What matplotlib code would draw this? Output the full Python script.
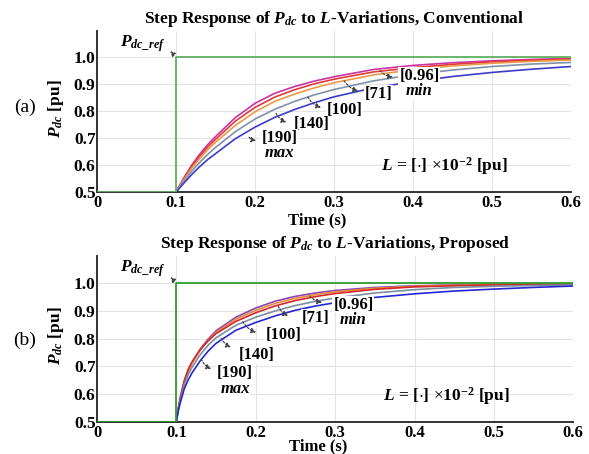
import matplotlib
matplotlib.use("Agg")
import matplotlib.pyplot as plt

plt.rcParams["font.family"] = ["Liberation Serif", "DejaVu Serif"]
plt.rcParams["mathtext.fontset"] = "custom"
plt.rcParams["mathtext.rm"] = "Liberation Serif"
plt.rcParams["mathtext.it"] = "Liberation Serif:italic"
plt.rcParams["mathtext.bf"] = "Liberation Serif:bold"
plt.rcParams["mathtext.bfit"] = "Liberation Serif:italic:bold"

# Données
t_conv = [0.0, 0.1, 0.11, 0.12, 0.13, 0.14, 0.15, 0.175, 0.2, 0.225, 0.25, 0.275,
          0.3, 0.35, 0.4, 0.45, 0.5, 0.55, 0.6]
conv_096 = [0.5, 0.5, 0.553, 0.60, 0.64, 0.675, 0.705, 0.775, 0.828, 0.865, 0.89, 0.91,
            0.926, 0.953, 0.968, 0.978, 0.985, 0.99, 0.994]
conv_71 = [0.5, 0.5, 0.55, 0.595, 0.633, 0.666, 0.695, 0.762, 0.813, 0.851, 0.878, 0.9,
           0.917, 0.944, 0.96, 0.972, 0.981, 0.987, 0.991]
conv_100 = [0.5, 0.5, 0.546, 0.588, 0.624, 0.656, 0.684, 0.746, 0.797, 0.835, 0.862, 0.885,
            0.904, 0.933, 0.952, 0.966, 0.976, 0.983, 0.988]
conv_140 = [0.5, 0.5, 0.54, 0.577, 0.61, 0.639, 0.665, 0.723, 0.77, 0.806, 0.835, 0.859,
            0.879, 0.911, 0.934, 0.951, 0.964, 0.973, 0.979]
conv_190 = [0.5, 0.5, 0.533, 0.565, 0.594, 0.62, 0.642, 0.697, 0.74, 0.776, 0.805, 0.83,
            0.852, 0.885, 0.908, 0.927, 0.942, 0.954, 0.964]

t_prop = [0.0, 0.1, 0.102, 0.105, 0.11, 0.115, 0.12, 0.13, 0.14, 0.15, 0.175, 0.2, 0.225,
          0.25, 0.275, 0.3, 0.35, 0.4, 0.45, 0.5, 0.55, 0.6]
prop_096 = [0.5, 0.5, 0.54, 0.585, 0.645, 0.685, 0.715, 0.762, 0.798, 0.828, 0.877, 0.91,
            0.935, 0.952, 0.964, 0.973, 0.984, 0.99, 0.993, 0.995, 0.996, 0.997]
prop_71 = [0.5, 0.5, 0.54, 0.585, 0.643, 0.683, 0.712, 0.758, 0.793, 0.822, 0.87, 0.902,
           0.927, 0.945, 0.958, 0.968, 0.981, 0.988, 0.992, 0.994, 0.995, 0.996]
prop_100 = [0.5, 0.5, 0.545, 0.592, 0.65, 0.69, 0.718, 0.76, 0.792, 0.818, 0.862, 0.893,
            0.918, 0.937, 0.951, 0.962, 0.977, 0.986, 0.99, 0.993, 0.995, 0.996]
prop_140 = [0.5, 0.5, 0.54, 0.58, 0.635, 0.672, 0.698, 0.742, 0.776, 0.803, 0.848, 0.877,
            0.9, 0.919, 0.934, 0.946, 0.964, 0.976, 0.984, 0.988, 0.991, 0.993]
prop_190 = [0.5, 0.5, 0.535, 0.57, 0.62, 0.652, 0.678, 0.72, 0.755, 0.783, 0.83, 0.858,
            0.882, 0.902, 0.917, 0.929, 0.948, 0.961, 0.971, 0.978, 0.984, 0.989]

t_ref = [0.0, 0.1, 0.1, 0.6]
p_ref = [0.5, 0.5, 1.0, 1.0]

x_ticks = [0, 0.1, 0.2, 0.3, 0.4, 0.5, 0.6]
x_tick_labels = ["0", "0.1", "0.2", "0.3", "0.4", "0.5", "0.6"]
y_ticks = [0.5, 0.6, 0.7, 0.8, 0.9, 1.0]

labels = ["[0.96]", "[71]", "[100]", "[140]", "[190]"]

couleurs_conv = ["#cc33a0", "#e03a3a", "#eb9a48", "#7f93a8", "#3c3ccc"]
couleurs_prop = ["#8a45b0", "#ea8a40", "#d42828", "#7a8ea0", "#2626d6"]

# positions des étiquettes (texte, pointe de flèche, départ sur la courbe)
pos_conv = [
    ((0.408, 0.928), (0.378, 0.925), (0.356, 0.956)),
    ((0.356, 0.864), (0.334, 0.872), (0.311, 0.92)),
    ((0.313, 0.804), (0.287, 0.81), (0.265, 0.86)),
    ((0.272, 0.75), (0.243, 0.755), (0.225, 0.8)),
    ((0.231, 0.699), (0.205, 0.69), (0.19, 0.71)),
]
pos_prop = [
    ((0.323, 0.922), (0.287, 0.93), (0.266, 0.96)),
    ((0.275, 0.874), (0.244, 0.879), (0.227, 0.925)),
    ((0.235, 0.813), (0.204, 0.82), (0.182, 0.87)),
    ((0.201, 0.741), (0.172, 0.766), (0.155, 0.81)),
    ((0.174, 0.675), (0.147, 0.687), (0.13, 0.735)),
]

fig = plt.figure(figsize=(5.89, 4.54), dpi=100)

panneaux = [
    ("Conventional", [0.1647, 0.577, 0.805, 0.3546], 1.095,
     [conv_096, conv_71, conv_100, conv_140, conv_190], t_conv, couleurs_conv,
     pos_conv, "#60b060", "(a)", 107, -0.125),
    ("Proposed", [0.1647, 0.0705, 0.8086, 0.3656], 1.097,
     [prop_096, prop_71, prop_100, prop_140, prop_190], t_prop, couleurs_prop,
     pos_prop, "#2e9e2e", "(b)", 340, -0.1),
]

boite = dict(boxstyle="square,pad=0.05", fc="white", ec="none")
fleche = dict(arrowstyle="-|>", linestyle=(0, (1.5, 1.5)), color="#444444", lw=0.9,
              mutation_scale=7, connectionstyle="arc3,rad=0.25")

for nom, rect, ytop, series, t, couleurs, pos, vert, lettre, ylet, xlab_y in panneaux:
    ax = fig.add_axes(rect)
    ax.plot(t_ref, p_ref, color=vert, lw=1.3, zorder=3)
    for s, c in zip(series, couleurs):
        ax.plot(t, s, color=c, lw=1.2, zorder=2)

    ax.set_xlim(0, 0.6)
    ax.set_ylim(0.5, ytop)
    ax.set_xticks(x_ticks)
    ax.set_xticklabels(x_tick_labels)
    ax.set_yticks(y_ticks)
    ax.tick_params(axis="x", length=0, labelsize=12, pad=2)
    ax.tick_params(axis="y", length=0, labelsize=12.5, pad=1)
    for lab in ax.get_xticklabels() + ax.get_yticklabels():
        lab.set_fontweight("bold")
    ax.grid(True, color="#e4e4e4", lw=0.8)
    ax.set_axisbelow(True)
    for sp in ["top", "right"]:
        ax.spines[sp].set_visible(False)
    for sp in ["left", "bottom"]:
        ax.spines[sp].set_color("#333333")
        ax.spines[sp].set_linewidth(1.4)

    ax.set_title(r"Step Response of $\mathbfit{P}_{\mathbfit{dc}}$ to $\mathbfit{L}$-Variations, " + nom,
                 fontsize=12.5, fontweight="bold", pad=6)
    ax.set_xlabel("Time (s)", fontsize=12, fontweight="bold")
    ax.xaxis.set_label_coords(0.465, xlab_y)
    ax.set_ylabel(r"$\mathbfit{P}_{\mathbfit{dc}}$ [pu]", fontsize=12.5, fontweight="bold")
    ax.yaxis.set_label_coords(-0.066, 0.52)

    fig.text(25 / 589, 1 - ylet / 454, lettre, fontsize=14, ha="center", va="center")

    for lab, (txt, tete, dep) in zip(labels, pos):
        ax.annotate("", xy=tete, xytext=dep, arrowprops=fleche, zorder=6)
        ax.text(txt[0], txt[1], lab, fontsize=12, fontweight="bold", ha="center",
                va="center", zorder=5, bbox=boite)
    # min / max
    ax.text(pos[0][0][0], pos[0][0][1] - 0.056, "min", fontsize=12, fontweight="bold",
            style="italic", ha="center", va="center", zorder=5, bbox=boite)
    ax.text(pos[4][0][0], pos[4][0][1] - 0.056, "max", fontsize=12, fontweight="bold",
            style="italic", ha="center", va="center", zorder=5, bbox=boite)

    ax.text(0.44, 0.595, r"$\mathbfit{L}$ = [$\cdot$] $\times$10$^{\mathbf{-2}}$ [pu]",
            fontsize=12.5, fontweight="bold", ha="center", va="center")

    ax.annotate("", xy=(0.09, 1.028), xytext=(0.1, 1.0),
                arrowprops=dict(arrowstyle="-|>", linestyle=(0, (1.5, 1.5)),
                                color="#444444", lw=0.9, mutation_scale=7))
    ax.text(0.058, 1.05, r"$\mathbfit{P}_{\mathbfit{dc\_ref}}$", fontsize=12.5,
            ha="center", va="center")

fig.savefig("out.png", dpi=100)
plt.close(fig)
